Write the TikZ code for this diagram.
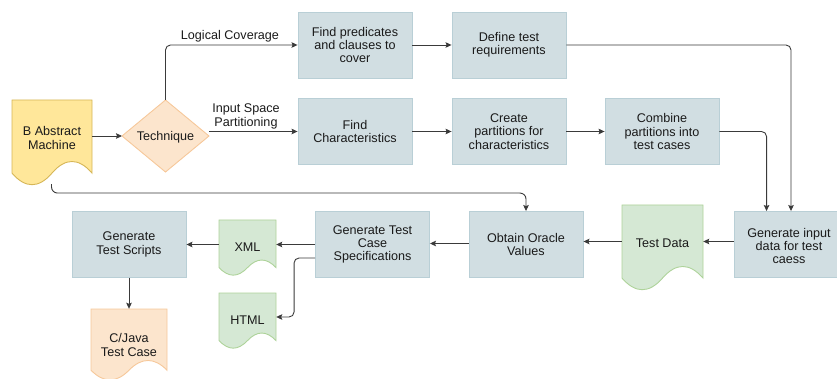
\documentclass[tikz,border=0pt]{standalone}
\usepackage{fontspec}
\setmainfont{Liberation Sans}
\usetikzlibrary{arrows.meta,calc}
\definecolor{boxfill}{HTML}{D1DEE2}
\definecolor{boxline}{HTML}{B9CFD6}
\definecolor{grnfill}{HTML}{D5E8D4}
\definecolor{grnline}{HTML}{AED39A}
\definecolor{orgfill}{HTML}{FCE5CD}
\definecolor{orgline}{HTML}{F6C89A}
\definecolor{ylwfill}{HTML}{FFE79A}
\definecolor{ylwline}{HTML}{D6B656}
\definecolor{edgecol}{HTML}{3A3A3A}
\definecolor{txtcol}{HTML}{1A1A1A}
\newcommand\docshape[8]{%
 \pgfmathsetmacro\dsW{#4-#2}\pgfmathsetmacro\dsH{#5-#3}%
 \pgfmathsetmacro\dsYe{#5-0.15*\dsH}%
 \pgfmathsetmacro\dsXm{#2+0.5*\dsW}%
 \pgfmathsetmacro\dsAx{#4+2/3*((#2+0.75*\dsW)-#4)}%
 \pgfmathsetmacro\dsAy{\dsYe+2/3*((#5-0.42*\dsH)-\dsYe)}%
 \pgfmathsetmacro\dsBx{\dsXm+2/3*((#2+0.75*\dsW)-\dsXm)}%
 \pgfmathsetmacro\dsCx{\dsXm+2/3*((#2+0.25*\dsW)-\dsXm)}%
 \pgfmathsetmacro\dsCy{\dsYe+2/3*((#5+0.12*\dsH)-\dsYe)}%
 \pgfmathsetmacro\dsDx{#2+2/3*((#2+0.25*\dsW)-#2)}%
 \pgfmathsetmacro\dsYc{#3+0.5*\dsH}%
 \draw[#1] (#2,#3) -- (#4,#3) -- (#4,\dsYe) .. controls (\dsAx,\dsAy) and (\dsBx,\dsAy) .. (\dsXm,\dsYe) .. controls (\dsCx,\dsCy) and (\dsDx,\dsCy) .. (#2,\dsYe) -- cycle;
 \node[minimum width=\dsW pt, minimum height=\dsH pt, inner sep=0pt, draw=none] (#6) at (\dsXm,\dsYc) {};
 \node[txt] (#6-t) at (\dsXm,#8) {#7};
}
\begin{document}
\begin{tikzpicture}[x=1pt,y=-1pt,
  txt/.style={align=center, text=txtcol, font=\fontsize{12.6}{13.3}\selectfont, inner sep=0pt},
  box/.style={txt, draw=boxline, fill=boxfill, line width=0.9pt, minimum width=114pt, minimum height=66pt},
  arr/.style={draw=edgecol, line width=0.9pt, -{Stealth[length=6pt,width=5.5pt,inset=1pt]}},
  elabel/.style={txt}]
\useasboundingbox (0,0) rectangle (837,379);
\clip (0,0) rectangle (837,379);

% process boxes
\node[box] (pred) at (355,45) {Find predicates\\and clauses to\\cover};
\node[box] (defreq) at (509,45) {Define test\\requirements};
\node[box] (findch) at (355,131.5) {Find\\Characteristics};
\node[box] (createp) at (509,131.5) {Create\\partitions for\\characteristics};
\node[box] (combine) at (662,131.5) {Combine\\partitions into\\test cases};
\node[box] (gin) at (791,244.5) {};
\node[txt] (gin-t) at (789,246) {Generate input\\data for test\\caess};
\node[box] (oracle) at (526,244.5) {Obtain Oracle\\Values};
\node[box] (spec) at (372.5,244.5) {Generate Test\\Case\\Specifications};
\node[box] (scripts) at (129,244.5) {Generate\\Test Scripts};

% decision
\path[draw=orgline, fill=orgfill, line width=0.9pt] (165.5,100) -- (209,136) -- (165.5,172) -- (122,136) -- cycle;
\node[minimum width=87pt, minimum height=72pt, inner sep=0pt] (tech) at (165.5,136) {};
\node[txt] (tech-t) at (165.5,137) {Technique};
\coordinate (techN) at (165.5,100);
\coordinate (techE) at (209,136);
\coordinate (techW) at (122,136);

% documents
\docshape{draw=ylwline, fill=ylwfill, line width=0.9pt}{12}{100}{92}{186}{bam}{B Abstract\\Machine}{138}
\docshape{draw=grnline, fill=grnfill, line width=0.9pt}{622}{205}{703}{291}{td}{Test Data}{243}
\docshape{draw=grnline, fill=grnfill, line width=0.9pt}{219}{220}{276}{276}{xml}{XML}{247}
\docshape{draw=grnline, fill=grnfill, line width=0.9pt}{219}{293}{276}{349}{html}{HTML}{320}
\docshape{draw=orgline, fill=orgfill, line width=0.9pt}{91}{309}{167}{381}{cjava}{C/Java\\Test Case}{345}

% connectors
\draw[arr] (bam.east |- techW) -- (techW);
\draw[arr, rounded corners=5pt] (techN) |- (pred.west);
\node[elabel] (lc) at (230,36) {Logical Coverage};
\draw[arr] (findch.west -| techE) -- (findch.west);
\node[elabel] (isp) at (246,116.5) {Input Space\\Partitioning};
\draw[arr] (pred) -- (defreq);
\draw[arr] (findch) -- (createp);
\draw[arr] (createp) -- (combine);
\draw[arr, rounded corners=5pt] (defreq.east) -| (gin.north);
\draw[arr, rounded corners=5pt] (combine.east) -| ($(gin.north west)+(33,0)$);
\draw[arr] ($(gin.west)+(0,-3)$) -- ($(gin.west -| td.east)+(0,-3)$);
\draw[arr] ($(td.west |- oracle.east)+(0,-3)$) -- ($(oracle.east)+(0,-3)$);
\draw[arr] ($(oracle.west)+(0,-1)$) -- ($(spec.east)+(0,-1)$);
\draw[arr] (spec.west) -- (spec.west -| xml.east);
\draw[arr] (xml.west |- scripts.east) -- (scripts.east);
\draw[arr, rounded corners=5pt] ($(spec.west)+(0,13.5)$) -- ++(-21,0) |- ($(html.east)+(0,-4)$);
\draw[arr] (scripts.south) -- (cjava.north);
\draw[arr, rounded corners=6pt] ($(bam.south)+(-0.5,-2)$) |- ($(oracle.north)+(0,-18)$) -- (oracle.north);
\end{tikzpicture}
\end{document}
